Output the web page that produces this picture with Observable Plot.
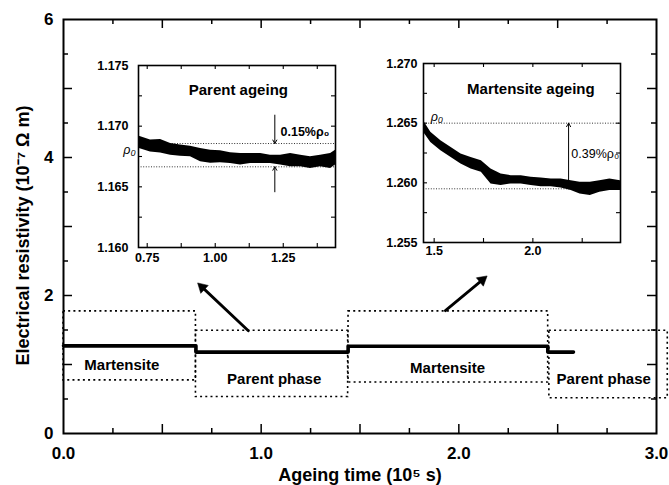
<!DOCTYPE html>
<html><head><meta charset="utf-8">
<script src="https://cdn.jsdelivr.net/npm/d3@7"></script>
<script src="https://cdn.jsdelivr.net/npm/@observablehq/plot@0.6"></script>
<style>
body{margin:0;background:#fff;}
#chart{position:relative;width:669px;height:485px;overflow:hidden;background:#fff;}
#chart svg{position:absolute;}
</style></head><body><div id="chart"></div>
<script>
// ---------- main chart data ----------
const xTickLabels = [0, 1, 2, 3];
const yTickLabels = [0, 2, 4, 6];
const xMajorTicks = [0.5, 1, 1.5, 2, 2.5];
const xMinorTicks = [0.25, 0.75, 1.25, 1.75, 2.25, 2.75];
const yMajorTicks = [1, 2, 3, 4, 5];
const yMinorTicks = [0.5, 1.5, 2.5, 3.5, 4.5, 5.5];

const stepTimes  = [0, 0.67, 1.44, 2.45, 2.58];
const stepValues = [1.27, 1.18, 1.265, 1.18, 1.18];

const phaseNames = ["Martensite", "Parent phase", "Martensite", "Parent phase"];
const phaseStart = [0, 0.67, 1.442, 2.458];
const phaseEnd   = [0.67, 1.44, 2.452, 3.057];
const phaseLow   = [0.77, 0.53, 0.74, 0.51];
const phaseHigh  = [1.77, 1.49, 1.77, 1.49];
const phaseLabelX = [0.295, 1.066, 1.943, 2.733];
const phaseLabelY = [0.985, 0.79, 0.95, 0.78];

const arrowFromX = [0.935, 1.932];
const arrowFromY = [1.49, 1.78];
const arrowToX   = [0.672, 2.15];
const arrowToY   = [2.20, 2.30];

const xTitle = "Ageing time (10\u2075 s)";
const yTitle = "Electrical resistivity (10\u207B\u2077 \u03A9 m)";

// ---------- inset 1: parent ageing ----------
const parentTime  = [0.718,0.762,0.799,0.836,0.872,0.909,0.946,0.983,1.019,1.056,1.093,1.130,1.167,1.203,1.240,1.277,1.314,1.350,1.387,1.424,1.442];
const parentUpper = [1.16918,1.16885,1.16890,1.16858,1.16844,1.16835,1.16816,1.16802,1.16797,1.16780,1.16775,1.16775,1.16775,1.16761,1.16761,1.16775,1.16761,1.16747,1.16761,1.16775,1.16802];
const parentLower = [1.16819,1.16788,1.16778,1.16761,1.16753,1.16747,1.16706,1.16695,1.16698,1.16693,1.16679,1.16693,1.16693,1.16693,1.16679,1.16665,1.16665,1.16652,1.16665,1.16652,1.16679];
const parentRefLevels = [1.16857, 1.16665];
const parentYLabels = [1.160, 1.165, 1.170, 1.175];
const parentYTicks = [1.1625, 1.165, 1.1675, 1.170, 1.1725];
const parentXLabels = [0.75, 1.00, 1.25];
const parentXTicks = [0.75, 0.875, 1.0, 1.125, 1.25, 1.375];

// ---------- inset 2: martensite ageing ----------
const martTime  = [1.446,1.483,1.534,1.586,1.636,1.687,1.739,1.788,1.839,1.890,1.941,1.991,2.042,2.093,2.143,2.194,2.239,2.291,2.339,2.390,2.444];
const martUpper = [1.26521,1.26423,1.26353,1.26297,1.26242,1.26213,1.26186,1.26116,1.26074,1.26060,1.26060,1.26046,1.26041,1.26033,1.26033,1.26018,1.26004,1.26004,1.26018,1.26033,1.26018];
const martLower = [1.26423,1.26339,1.26269,1.26213,1.26158,1.26116,1.26088,1.25991,1.25977,1.25991,1.25991,1.25977,1.25968,1.25968,1.25957,1.25935,1.25907,1.25893,1.25921,1.25935,1.25935];
const martRefLevels = [1.2650, 1.2595];
const martYLabels = [1.255, 1.260, 1.265, 1.270];
const martYTicks = [1.2575, 1.260, 1.2625, 1.265, 1.2675];
const martXLabels = [1.5, 2.0];
const martXTicks = [1.5, 1.75, 2.0, 2.25];

const FONT = "'Liberation Sans', Arial, Helvetica, sans-serif";

// ---------- main plot geometry ----------
const mW = 669, mH = 485, mL = 63, mR = 13, mT = 19, mB = 52;
const mIW = mW - mL - mR, mIH = mH - mT - mB;
const mainX = {domain: [0, 3]};
const mainY = {domain: [0, 6]};
const sx = Plot.scale({x: {...mainX, range: [mL, mW - mR]}});
const sy = Plot.scale({y: {...mainY, range: [mH - mB, mT]}});

// ---------- build tables ----------
const steps = stepTimes.map((t, i) => ({t, v: stepValues[i]}));
const phases = phaseNames.map((name, i) => ({name, start: phaseStart[i], end: phaseEnd[i], low: phaseLow[i], high: phaseHigh[i], lx: phaseLabelX[i], ly: phaseLabelY[i]}));
const HEAD_R = 5.2;
const HEAD_BACK = 2 * Math.sqrt(Math.PI * HEAD_R * HEAD_R / (3 * Math.sqrt(3))); // centroid-to-tip, px
const arrows = arrowFromX.map((x1, i) => {
  const px = sx.apply(arrowToX[i]) - sx.apply(x1);
  const py = sy.apply(arrowToY[i]) - sy.apply(arrowFromY[i]);
  const len = Math.hypot(px, py);
  const ux = px / len, uy = py / len;
  return {x1, y1: arrowFromY[i], x2: arrowToX[i], y2: arrowToY[i],
          angle: Math.atan2(ux, -uy) * 180 / Math.PI,
          hdx: -HEAD_BACK * ux, hdy: -HEAD_BACK * uy};
});
const parentBand = parentTime.map((t, i) => ({t, lo: parentLower[i], hi: parentUpper[i]}));
const martBand = martTime.map((t, i) => ({t, lo: martLower[i], hi: martUpper[i]}));

function inwardTicks(xt, yt, innerW, innerH, xLen, yLen, sw) {
  return [
    Plot.tickX(xt, {x: d => d, insetTop: innerH - xLen, strokeWidth: sw}),
    Plot.tickX(xt, {x: d => d, insetBottom: innerH - xLen, strokeWidth: sw}),
    Plot.tickY(yt, {y: d => d, insetRight: innerW - yLen, strokeWidth: sw}),
    Plot.tickY(yt, {y: d => d, insetLeft: innerW - yLen, strokeWidth: sw})
  ];
}

// ---------- main plot ----------
const main = Plot.plot({
  width: mW, height: mH,
  marginLeft: mL, marginRight: mR, marginTop: mT, marginBottom: mB,
  x: mainX,
  y: mainY,
  style: {fontFamily: FONT, fontWeight: "bold", background: "white", overflow: "visible"},
  marks: [
    Plot.rect(phases, {x1: "start", x2: "end", y1: "low", y2: "high", fill: "none", stroke: "black", strokeWidth: 1.6, strokeDasharray: "2,3.2"}),
    Plot.line(steps, {x: "t", y: "v", curve: "step-after", stroke: "black", strokeWidth: 3.6}),
    Plot.text(phases, {x: "lx", y: "ly", text: "name", fontSize: 15, fontWeight: "bold", fill: "black"}),
    Plot.arrow(arrows, {x1: "x1", y1: "y1", x2: "x2", y2: "y2", stroke: "black", strokeWidth: 2.8, headLength: 0, insetEnd: 9}),
    ...arrows.map(a => Plot.dot([a], {x: "x2", y: "y2", dx: a.hdx, dy: a.hdy, symbol: "triangle2", r: HEAD_R, rotate: "angle", fill: "black", stroke: "black", strokeWidth: 0.5})),
    ...inwardTicks(xMajorTicks, yMajorTicks, mIW, mIH, 9, 9, 1.5),
    ...inwardTicks(xMinorTicks, yMinorTicks, mIW, mIH, 5, 5, 1.5),
    Plot.frame({stroke: "black", strokeWidth: 2}),
    Plot.axisX({ticks: xTickLabels, tickSize: 0, tickPadding: 13, fontSize: 17, fontWeight: "bold", tickFormat: d3.format(".1f"), label: null}),
    Plot.axisY({ticks: yTickLabels, tickSize: 0, tickPadding: 10, fontSize: 17, fontWeight: "bold", tickFormat: d3.format("d"), label: null}),
    Plot.text([xTitle], {text: d => d, frameAnchor: "bottom", dy: 42, fontSize: 18, fontWeight: "bold", textAnchor: "middle", lineAnchor: "middle"}),
    Plot.text([yTitle], {text: d => d, frameAnchor: "left", dx: -40, dy: 9, rotate: -90, fontSize: 18, fontWeight: "bold", textAnchor: "middle", lineAnchor: "middle"})
  ]
});
main.style.left = "0px"; main.style.top = "0px";

// ---------- inset 1 ----------
const i1W = 277, i1H = 214, i1L = 60, i1R = 20, i1T = 10, i1B = 22;
const i1IW = i1W - i1L - i1R, i1IH = i1H - i1T - i1B;
const inset1 = Plot.plot({
  width: i1W, height: i1H,
  marginLeft: i1L, marginRight: i1R, marginTop: i1T, marginBottom: i1B,
  x: {domain: [0.718, 1.442]},
  y: {domain: [1.160, 1.175]},
  style: {fontFamily: FONT, fontWeight: "bold", background: "transparent", overflow: "visible"},
  marks: [
    Plot.ruleY(parentRefLevels, {stroke: "#333", strokeWidth: 1, strokeDasharray: "1,1.6"}),
    Plot.areaY(parentBand, {x: "t", y1: "lo", y2: "hi", fill: "black"}),
    Plot.arrow([{x: 1.219, y1: 1.17091, y2: 1.16857}, {x: 1.219, y1: 1.16459, y2: 1.16665}], {x1: "x", x2: "x", y1: "y1", y2: "y2", stroke: "black", strokeWidth: 1, headLength: 6}),
    Plot.text(["0.15%\u03C1\u2080"], {x: 1.240, y: 1.16953, text: d => d, textAnchor: "start", fontSize: 12.5, fontWeight: "bold"}),
    Plot.text(["\u03C1\u2080"], {x: 0.685, y: 1.1680, text: d => d, fontSize: 12.5, fontStyle: "italic", fontWeight: "normal"}),
    Plot.text(["Parent ageing"], {x: 1.085, y: 1.17297, text: d => d, fontSize: 15, fontWeight: "bold"}),
    ...inwardTicks(parentXTicks, parentYTicks, i1IW, i1IH, 4, 4, 1.1),
    Plot.frame({stroke: "black", strokeWidth: 1.6}),
    Plot.axisX({ticks: parentXLabels, tickSize: 0, tickPadding: 6, fontSize: 12.5, fontWeight: "bold", tickFormat: d3.format(".2f"), label: null}),
    Plot.axisY({ticks: parentYLabels, tickSize: 0, tickPadding: 10, fontSize: 12.5, fontWeight: "bold", tickFormat: d3.format(".3f"), label: null})
  ]
});
inset1.style.left = "78px"; inset1.style.top = "55px";

// ---------- inset 2 ----------
const i2W = 272, i2H = 211, i2L = 60, i2R = 15, i2T = 10, i2B = 22;
const i2IW = i2W - i2L - i2R, i2IH = i2H - i2T - i2B;
const inset2 = Plot.plot({
  width: i2W, height: i2H,
  marginLeft: i2L, marginRight: i2R, marginTop: i2T, marginBottom: i2B,
  x: {domain: [1.446, 2.444]},
  y: {domain: [1.255, 1.270]},
  style: {fontFamily: FONT, fontWeight: "bold", background: "transparent", overflow: "visible"},
  marks: [
    Plot.ruleY(martRefLevels, {stroke: "#333", strokeWidth: 1, strokeDasharray: "1,1.6"}),
    Plot.areaY(martBand, {x: "t", y1: "lo", y2: "hi", fill: "black"}),
    Plot.arrow([{x: 2.181, y1: 1.2595, y2: 1.2650}], {x1: "x", x2: "x", y1: "y1", y2: "y2", stroke: "black", strokeWidth: 1, headLength: 6}),
    Plot.text(["0.39%\u03C1\u2080"], {x: 2.195, y: 1.26242, text: d => d, textAnchor: "start", fontSize: 12.5, fontWeight: "normal"}),
    Plot.text(["\u03C1\u2080"], {x: 1.514, y: 1.2652, text: d => d, lineAnchor: "bottom", fontSize: 12.5, fontStyle: "italic", fontWeight: "normal"}),
    Plot.text(["Martensite ageing"], {x: 1.99, y: 1.26788, text: d => d, fontSize: 15, fontWeight: "bold"}),
    ...inwardTicks(martXTicks, martYTicks, i2IW, i2IH, 4, 4, 1.1),
    Plot.frame({stroke: "black", strokeWidth: 1.6}),
    Plot.axisX({ticks: martXLabels, tickSize: 0, tickPadding: 4, fontSize: 12.5, fontWeight: "bold", tickFormat: d3.format(".1f"), label: null}),
    Plot.axisY({ticks: martYLabels, tickSize: 0, tickPadding: 6, fontSize: 12.5, fontWeight: "bold", tickFormat: d3.format(".3f"), label: null})
  ]
});
inset2.style.left = "363px"; inset2.style.top = "53px";

const chart = document.getElementById("chart");
chart.append(main, inset1, inset2);
</script>
</body></html>
